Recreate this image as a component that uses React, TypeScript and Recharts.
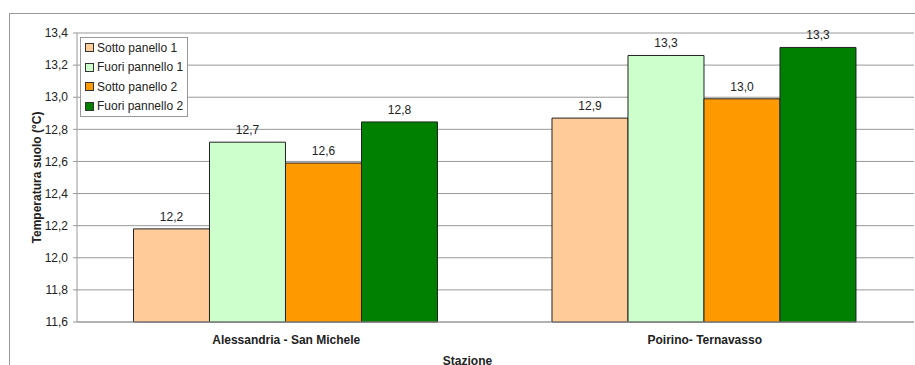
import { BarChart, Bar, XAxis, YAxis, CartesianGrid, LabelList } from 'recharts';

const stations = ['Alessandria - San Michele', 'Poirino- Ternavasso'];
const sottoPanello1 = [12.18, 12.87];
const fuoriPannello1 = [12.72, 13.26];
const sottoPanello2 = [12.59, 12.99];
const fuoriPannello2 = [12.846, 13.31];
const yTicks = [11.6, 11.8, 12.0, 12.2, 12.4, 12.6, 12.8, 13.0, 13.2, 13.4];

const seriesDefs = [
  { key: 's1', name: 'Sotto panello 1', color: '#FFCC99', values: sottoPanello1 },
  { key: 'f1', name: 'Fuori pannello 1', color: '#CCFFCC', values: fuoriPannello1 },
  { key: 's2', name: 'Sotto panello 2', color: '#FF9900', values: sottoPanello2 },
  { key: 'f2', name: 'Fuori pannello 2', color: '#008000', values: fuoriPannello2 },
];

const data = stations.map((station, i) => {
  const row: Record<string, string | number> = { station };
  seriesDefs.forEach((s) => {
    row[s.key] = s.values[i];
  });
  return row;
});

const fmt = (v: number) => v.toFixed(1).replace('.', ',');
const FONT = '"Liberation Sans", Arial, sans-serif';

// legend drawn as an overlay so it doesn't take space from the plot
function LegendBox() {
  return (
    <div
      style={{
        position: 'absolute',
        left: 80,
        top: 37,
        border: '1px solid #999',
        background: '#fff',
        padding: '0px 4px 0px 4px',
        fontFamily: FONT,
        fontSize: 12,
        color: '#222',
      }}
    >
      {seriesDefs.map((s) => (
        <div key={s.key} style={{ display: 'flex', alignItems: 'center', height: 19.5 }}>
          <span
            style={{
              display: 'inline-block',
              width: 7,
              height: 7,
              background: s.color,
              border: '1px solid #333',
              marginRight: 3,
            }}
          />
          {s.name}
        </div>
      ))}
    </div>
  );
}

export default function App() {
  return (
    <div style={{ position: 'absolute', left: 0, top: 0, width: 915, height: 365, background: '#fff', overflow: 'hidden' }}>
      <div
        style={{
          position: 'absolute',
          left: 9,
          top: 13,
          width: 910,
          height: 360,
          borderTop: '1px solid #999',
          borderLeft: '1px solid #999',
        }}
      />
      <div style={{ position: 'absolute', left: 0, top: 0 }}>
        <BarChart
          width={915}
          height={365}
          data={data}
          margin={{ top: 33, right: 1, left: 0, bottom: 0 }}
          barCategoryGap="13.5%"
          barGap={0}
          style={{ fontFamily: FONT }}
        >
          <CartesianGrid vertical={false} stroke="#999" strokeWidth={1} />
          <XAxis
            dataKey="station"
            height={43}
            tickLine={false}
            axisLine={{ stroke: '#999' }}
            tick={{ fill: '#222', fontSize: 12, fontWeight: 'bold' }}
            tickMargin={7}
            label={{
              value: 'Stazione',
              position: 'insideBottom',
              offset: 0,
              dx: -28,
              fill: '#222',
              fontSize: 12,
              fontWeight: 'bold',
            }}
          />
          <YAxis
            width={77}
            domain={[11.6, 13.4]}
            ticks={yTicks}
            interval={0}
            tickFormatter={fmt}
            tickSize={4}
            tickMargin={5}
            axisLine={{ stroke: '#999' }}
            tickLine={{ stroke: '#999' }}
            tick={{ fill: '#222', fontSize: 12 }}
            label={{
              value: 'Temperatura suolo (°C)',
              angle: -90,
              position: 'center',
              dx: -2,
              fill: '#222',
              fontSize: 12,
              fontWeight: 'bold',
            }}
          />
          {seriesDefs.map((s) => (
            <Bar
              key={s.key}
              dataKey={s.key}
              name={s.name}
              fill={s.color}
              stroke="#222"
              strokeWidth={1}
              isAnimationActive={false}
            >
              <LabelList
                dataKey={s.key}
                position="top"
                offset={8}
                formatter={(v: number) => fmt(v)}
                fill="#222"
                fontSize={12}
              />
            </Bar>
          ))}
        </BarChart>
      </div>
      <LegendBox />
    </div>
  );
}
